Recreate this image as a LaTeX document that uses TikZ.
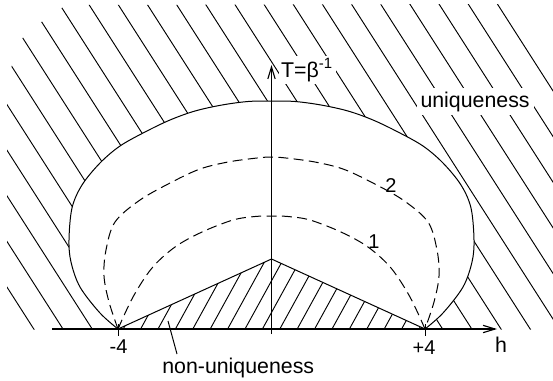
\documentclass[tikz,border=0pt]{standalone}
\usepackage{fontspec}
\setmainfont{Liberation Sans}
\usetikzlibrary{arrows.meta}
\begin{document}
\begin{tikzpicture}[x=0.75pt,y=-0.75pt,line width=0.75pt,
  lbl/.style={font=\fontsize{16}{18}\selectfont,inner sep=1pt},
  numlbl/.style={font=\fontsize{15}{17}\selectfont,inner sep=1pt},
  hatchline/.style={line width=0.7pt},
  dcurve/.style={dash pattern=on 7.5pt off 4pt},
  axisline/.style={line width=0.85pt},
  tip/.style={-{Straight Barb[length=9pt,width=5.5pt]}}]
\useasboundingbox (0,0) rectangle (553,380);
% key points
\coordinate (m4) at (118,329);
\coordinate (p4) at (425,329);
\coordinate (apex) at (271.5,259);
\coordinate (xs) at (52,329);
\coordinate (xe) at (497,329);
\coordinate (ys) at (271.5,334);
\coordinate (ye) at (271.5,65);
% hatching of the uniqueness region
\begin{scope}
\clip (7,329.5) -- (7,84) -- (18,42) -- (40,23) -- (66,5) -- (510,4) -- (553,50) -- (553,329.5) -- cycle;
\foreach \j in {-2,...,24}
  \draw[hatchline] ({63+29.2*\j+3.2},334) -- ({63+29.2*\j-217.6},-11);
\end{scope}
% outer boundary (bubble)
\draw[fill=white] plot[smooth,tension=0.55] coordinates {(118,329) (100,313) (80,287) (71,262) (69,240) (72,208) (82,185) (100,163) (120,146) (145,132) (170,120) (195,111) (222,105) (248,101.5) (271.5,101) (295,101.5) (321,105) (348,111) (373,120) (398,132) (423,146) (443,163) (461,185) (471,208) (474,240) (472,262) (463,287) (443,313) (425,329)} -- cycle;
% non-uniqueness triangle
\begin{scope}
\clip (m4) -- (apex) -- (p4) -- cycle;
\foreach \j in {-7,...,10}
  \draw[hatchline] ({245+17.4*\j-2.75},334) -- ({245+17.4*\j+46.75},244);
\end{scope}
\draw (m4) -- (apex) -- (p4);
% dashed curves
\draw[dcurve] plot[smooth,tension=0.55] coordinates {(118,329) (109,302) (104,276) (106,250) (115,222) (140,200) (172,182) (200,169) (228,162) (257,158) (271.5,157) (286,158) (315,162) (343,169) (371,182) (403,200) (428,222) (437,250) (439,276) (434,302) (425,329)};
\draw[dcurve] plot[smooth,tension=0.55] coordinates {(118,329) (133,297) (152,268) (175,247) (202,232) (233,220) (255,216.5) (271.5,216) (288,216.5) (310,220) (341,232) (368,247) (391,268) (410,297) (425,329)};
% axes
\draw[axisline,tip] (xs) -- (xe);
\draw[axisline,tip] (ys) -- (ye);
\draw (118,324) -- (118,336);
\draw (425,324) -- (425,336);
% labels
\node[lbl,fill=white,anchor=base west,inner sep=3pt] (uniq) at (416,107) {uniqueness};
\node[lbl,fill=white,anchor=base west,inner sep=2pt] (tlab) at (278,77) {T=β\textsuperscript{-1}};
\node[lbl,anchor=base west] (nonu) at (160.5,373) {non-uniqueness};
\node[numlbl,anchor=base] (lm4) at (118.5,353) {-4};
\node[numlbl,anchor=base] (lp4) at (424,354) {+4};
\node[lbl,anchor=base] (hlab) at (501,352) {h};
\node[numlbl,anchor=base] (one) at (374,248) {1};
\node[numlbl,anchor=base] (two) at (391,192) {2};
% leader line
\coordinate (lt) at (168,321);
\coordinate (lb) at (177,354);
\draw (lt) -- (lb);
\end{tikzpicture}
\end{document}
